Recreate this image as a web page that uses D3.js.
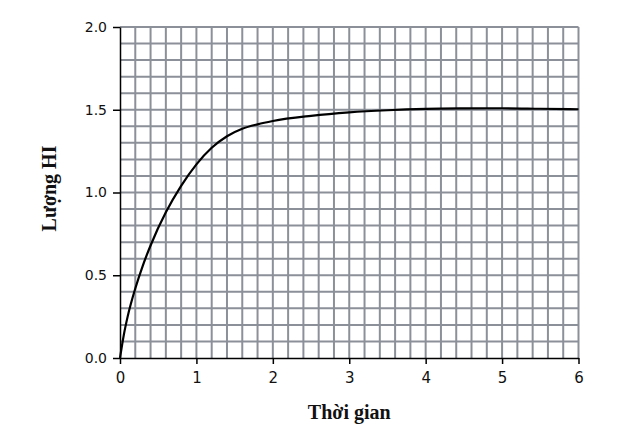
<!DOCTYPE html>
<html lang="vi">
<head>
  <meta charset="UTF-8">
  <title>Lượng HI theo thời gian</title>
  <script src="https://d3js.org/d3.v7.min.js"></script>
  <style>
    body {
      margin: 0;
      background: #fff;
    }
    svg {
      display: block;
    }
    .tick text {
      font-family: 'DejaVu Sans', sans-serif;
      fill: #111;
    }
    .axis-title {
      font-family: 'Liberation Serif', 'Times New Roman', serif;
      font-weight: bold;
      font-size: 20px;
      fill: #111;
    }
  </style>
</head>
<body>

<svg width="620" height="437"></svg>

<script>
// values
const time = [0, 0.05, 0.1, 0.2, 0.3, 0.4, 0.6, 0.8, 1.0, 1.2, 1.4, 1.6, 1.8, 2.0, 2.5, 3.0, 3.5, 4.0, 4.5, 5.0, 5.5, 6.0];
const amountHI = [0, 0.14, 0.25, 0.42, 0.56, 0.68, 0.88, 1.04, 1.17, 1.27, 1.34, 1.385, 1.412, 1.432, 1.463, 1.484, 1.497, 1.505, 1.508, 1.509, 1.506, 1.503];

const xTicks = [0, 1, 2, 3, 4, 5, 6];
const yTicks = [0, 0.5, 1.0, 1.5, 2.0];
const xLabel = "Thời gian";
const yLabel = "Lượng HI";

const svg = d3.select("svg"),
      margin = {top: 27, right: 41.5, bottom: 79, left: 120},
      width = +svg.attr("width") - margin.left - margin.right,
      height = +svg.attr("height") - margin.top - margin.bottom,
      g = svg.append("g").attr("transform", `translate(${margin.left},${margin.top})`);

const x = d3.scaleLinear().domain([0, 6]).range([0, width]);
const y = d3.scaleLinear().domain([0, 2]).range([height, 0]);

// grid: every 0.2 along time, every 0.1 along amount
const grid = g.append("g").attr("stroke", "#8b9099").attr("stroke-width", 2);

grid.selectAll(".vgrid")
  .data(d3.range(1, 31).map(i => i * 0.2))
  .join("line")
  .attr("x1", d => x(d)).attr("x2", d => x(d))
  .attr("y1", 0).attr("y2", height);

grid.selectAll(".hgrid")
  .data(d3.range(1, 21).map(i => i * 0.1))
  .join("line")
  .attr("x1", 0).attr("x2", width)
  .attr("y1", d => y(d)).attr("y2", d => y(d));

// axes
g.append("g")
  .attr("transform", `translate(0,${height})`)
  .call(d3.axisBottom(x).tickValues(xTicks).tickFormat(d3.format("d")).tickSize(6).tickSizeOuter(0))
  .call(a => a.select(".domain").attr("stroke", "#000").attr("stroke-width", 1.5))
  .call(a => a.selectAll(".tick line").attr("stroke", "#000").attr("stroke-width", 1.5))
  .call(a => a.selectAll(".tick text").attr("font-size", 15).attr("dy", "1.05em"));

g.append("g")
  .call(d3.axisLeft(y).tickValues(yTicks).tickFormat(d3.format(".1f")).tickSize(7).tickSizeOuter(0))
  .call(a => a.select(".domain").attr("stroke", "#000").attr("stroke-width", 1.5))
  .call(a => a.selectAll(".tick line").attr("stroke", "#000").attr("stroke-width", 1.5))
  .call(a => a.selectAll(".tick text").attr("font-size", 14).attr("x", -13));

// curve
const line = d3.line()
  .curve(d3.curveMonotoneX)
  .x((d, i) => x(time[i]))
  .y(d => y(d));

g.append("path")
  .datum(amountHI)
  .attr("fill", "none")
  .attr("stroke", "#000")
  .attr("stroke-width", 2.2)
  .attr("d", line);

// axis titles
g.append("text")
  .attr("class", "axis-title")
  .attr("x", width / 2)
  .attr("y", height + 61)
  .attr("text-anchor", "middle")
  .text(xLabel);

g.append("text")
  .attr("class", "axis-title")
  .attr("transform", `translate(${-64},${height / 2 - 4}) rotate(-90)`)
  .attr("text-anchor", "middle")
  .text(yLabel);
</script>

</body>
</html>
